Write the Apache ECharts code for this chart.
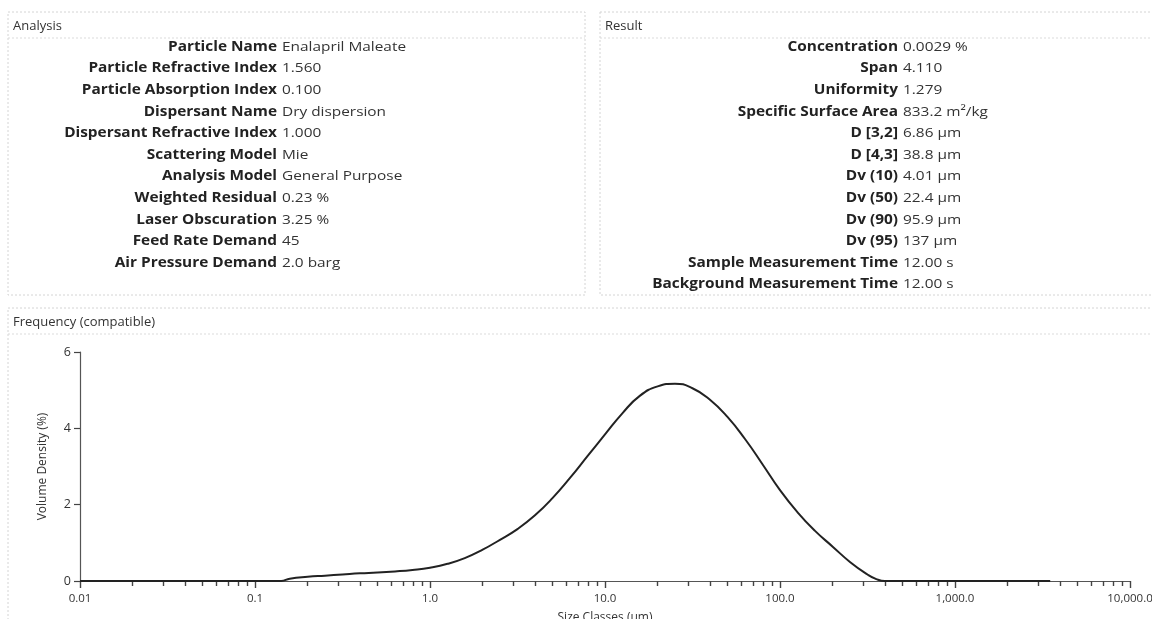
<!DOCTYPE html>
<html>
<head>
<meta charset="utf-8">
<script src="https://cdn.jsdelivr.net/npm/echarts@6/dist/echarts.min.js"></script>
<style>
  html, body { margin: 0; padding: 0; background: #fff; }
  #chart { width: 1152px; height: 619px; }
</style>
</head>
<body>
<div id="chart"></div>
<script>
// analysis / result tables
var analysisLabels = ['Particle Name', 'Particle Refractive Index', 'Particle Absorption Index', 'Dispersant Name',
  'Dispersant Refractive Index', 'Scattering Model', 'Analysis Model', 'Weighted Residual', 'Laser Obscuration',
  'Feed Rate Demand', 'Air Pressure Demand'];
var analysisValues = ['Enalapril Maleate', '1.560', '0.100', 'Dry dispersion', '1.000', 'Mie', 'General Purpose',
  '0.23 %', '3.25 %', '45', '2.0 barg'];
var resultLabels = ['Concentration', 'Span', 'Uniformity', 'Specific Surface Area', 'D [3,2]', 'D [4,3]',
  'Dv (10)', 'Dv (50)', 'Dv (90)', 'Dv (95)', 'Sample Measurement Time', 'Background Measurement Time'];
var resultValues = ['0.0029 %', '4.110', '1.279', '833.2 m\u00b2/kg', '6.86 \u00b5m', '38.8 \u00b5m', '4.01 \u00b5m',
  '22.4 \u00b5m', '95.9 \u00b5m', '137 \u00b5m', '12.00 s', '12.00 s'];

// frequency curve (size in um, volume density in %)
var sizes = [0.01, 0.05, 0.1, 0.126, 0.141, 0.158, 0.2, 0.251, 0.316, 0.398, 0.501, 0.631, 0.794,
  1, 1.26, 1.58, 2, 2.51, 3.16, 3.98, 5.01, 6.31, 7.94, 10, 12.6, 15.8, 20, 25.1, 31.6, 39.8,
  50.1, 63.1, 79.4, 100, 126, 158, 200, 251, 316, 355, 398, 1000, 3500];
var density = [0, 0, 0, 0, 0, 0.06, 0.11, 0.14, 0.17, 0.2, 0.22, 0.25, 0.29,
  0.35, 0.45, 0.6, 0.82, 1.08, 1.36, 1.72, 2.17, 2.7, 3.27, 3.84, 4.4, 4.85, 5.1, 5.17, 5.05, 4.75,
  4.3, 3.72, 3.06, 2.38, 1.8, 1.32, 0.9, 0.5, 0.17, 0.05, 0, 0, 0];

var majorTicks = [0.01, 0.1, 1, 10, 100, 1000, 10000];
var majorLabels = ['0.01', '0.1', '1.0', '10.0', '100.0', '1,000.0', '10,000.0'];
var minorTicks = [];
majorTicks.slice(0, -1).forEach(function (d) {
  for (var k = 2; k <= 9; k++) minorTicks.push(Number((k * d).toPrecision(6)));
});

var font = '"Open Sans", "Noto Sans", sans-serif';
var rowTop = 47, rowStep = 21.6;

var graphics = [];
function panel(x, y, w, h, title) {
  graphics.push({ type: 'rect', shape: { x: x, y: y, width: w, height: h },
    style: { fill: 'none', stroke: '#d4d4d4', lineWidth: 1, lineDash: [2, 2] }, silent: true });
  graphics.push({ type: 'line', shape: { x1: x, y1: y + 26, x2: x + w, y2: y + 26 },
    style: { stroke: '#dcdcdc', lineWidth: 1, lineDash: [2, 2] }, silent: true });
  graphics.push({ type: 'text', x: x + 5, y: y + 14,
    style: { text: title, font: '13px ' + font, fill: '#333', verticalAlign: 'middle' } });
}
// the scanned tables are a little stretched sideways
function table(labels, values, colX) {
  labels.forEach(function (lab, i) {
    var yy = rowTop + i * rowStep;
    graphics.push({ type: 'text', x: colX, y: yy, scaleX: 1.14,
      style: { text: lab, font: 'bold 13.5px ' + font, fill: '#222', align: 'right', verticalAlign: 'middle' } });
    graphics.push({ type: 'text', x: colX + 5, y: yy, scaleX: 1.14,
      style: { text: values[i], font: '13.5px ' + font, fill: '#333', align: 'left', verticalAlign: 'middle' } });
  });
}
panel(8, 12, 577, 283, 'Analysis');
panel(600, 12, 570, 283, 'Result');
panel(8, 308, 1160, 330, 'Frequency (compatible)');
table(analysisLabels, analysisValues, 277);
table(resultLabels, resultValues, 898);

var chart = echarts.init(document.getElementById('chart'));
chart.setOption({
  animation: false,
  backgroundColor: '#fff',
  textStyle: { fontFamily: font },
  graphic: graphics,
  grid: { left: 80, right: 22, top: 352, bottom: 38, containLabel: false, outerBoundsMode: 'none' },
  xAxis: [
    {
      type: 'log', logBase: 10, min: 0.01, max: 10000,
      name: 'Size Classes (\u00b5m)', nameLocation: 'middle', nameGap: 31,
      nameTextStyle: { fontSize: 12, color: '#333' },
      axisLine: { lineStyle: { color: '#555', width: 1.2 } },
      axisTick: { inside: false, length: 7, lineStyle: { color: '#444', width: 1.4 }, customValues: majorTicks },
      axisLabel: { customValues: majorTicks, fontSize: 11.5, color: '#333', margin: 12,
        formatter: function (v) {
          var i = majorTicks.findIndex(function (m) { return Math.abs(Math.log10(m) - Math.log10(v)) < 1e-6; });
          return i >= 0 ? majorLabels[i] : '';
        } },
      splitLine: { show: false },
      minorTick: { show: false }
    },
    {
      type: 'log', logBase: 10, min: 0.01, max: 10000, position: 'bottom',
      axisLine: { show: false },
      axisTick: { inside: false, length: 5, lineStyle: { color: '#444', width: 1.4 }, customValues: minorTicks },
      axisLabel: { show: false },
      splitLine: { show: false }
    }
  ],
  yAxis: {
    type: 'value', min: 0, max: 6, interval: 2,
    name: 'Volume Density (%)', nameLocation: 'middle', nameGap: 31,
    nameTextStyle: { fontSize: 12, color: '#333' },
    axisLine: { show: true, lineStyle: { color: '#555', width: 1.2 } },
    axisTick: { show: true, inside: false, length: 6, lineStyle: { color: '#444', width: 1.2 } },
    axisLabel: { fontSize: 12.5, color: '#333', margin: 9 },
    splitLine: { show: false }
  },
  series: [{
    type: 'line',
    xAxisIndex: 0,
    data: sizes.map(function (s, i) { return [s, density[i]]; }),
    smooth: 0.5,
    showSymbol: false,
    lineStyle: { color: '#222', width: 2 }
  }]
});
</script>
</body>
</html>
